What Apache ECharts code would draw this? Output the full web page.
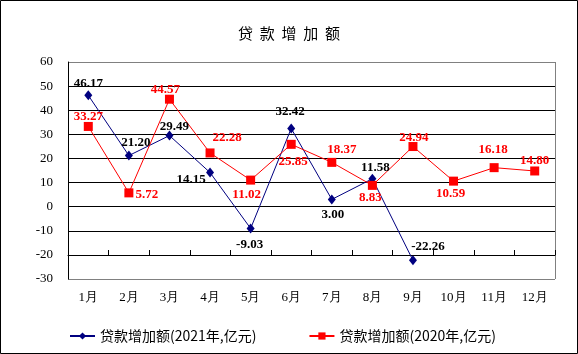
<!DOCTYPE html>
<html>
<head>
<meta charset="utf-8">
<script src="https://cdn.jsdelivr.net/npm/echarts@6/dist/echarts.min.js"></script>
<style>
  html, body { margin: 0; padding: 0; background: #fff; }
  #main { width: 578px; height: 354px; }
</style>
</head>
<body>
<div id="main"></div>
<script>
// 月份
const months = ['1月', '2月', '3月', '4月', '5月', '6月', '7月', '8月', '9月', '10月', '11月', '12月']
// 2021年 贷款增加额(亿元)
const loans2021 = [46.17, 21.20, 29.49, 14.15, -9.03, 32.42, 3.00, 11.58, -22.26]
// 2020年 贷款增加额(亿元)
const loans2020 = [33.27, 5.72, 44.57, 22.28, 11.02, 25.85, 18.37, 8.83, 24.94, 10.59, 16.18, 14.80]

const name2021 = '贷款增加额(2021年,亿元)'
const name2020 = '贷款增加额(2020年,亿元)'

// 标签相对数据点的偏移 [dx, dy]
const offsets2021 = [[0, -12], [7, -13], [5, -9], [-19, 7], [-1, 16], [-1, -17], [1, 15], [3, -11], [15, -14]]
const offsets2020 = [[0, -10], [18, 2], [-4, -10], [17, -15], [-4, 15], [2, 17], [10, -13], [-2, 12], [1, -9], [-3, 13], [-1, -18], [0, -10]]

const serif = '"Liberation Serif", "Times New Roman", serif'
const cjk = '"Noto Sans CJK SC", sans-serif'

function withLabels (values, offsets) {
    return values.map(function (v, i) {
        return { value: v, label: { offset: offsets[i] } }
    })
}

const chart = echarts.init(document.getElementById('main'), null, { renderer: 'canvas' })

// y 轴分隔线：上下边框灰色，其余黑色
const splitColors = ['#808080', '#000', '#000', '#000', '#000', '#000', '#000', '#000', '#000', '#808080']

const option = {
    animation: false,
    backgroundColor: '#fff',
    title: {
        text: '贷  款  增  加  额',
        left: 'center',
        top: 21,
        textStyle: { fontFamily: cjk, fontSize: 15, fontWeight: 'normal', color: '#000' }
    },
    legend: {
        left: 64,
        top: 324,
        itemWidth: 25,
        itemHeight: 9,
        itemGap: 52,
        textStyle: { fontFamily: cjk, fontSize: 14, color: '#000' },
        data: [name2021, name2020]
    },
    grid: { left: 68, right: 23, top: 62, bottom: 75 },
    xAxis: [
        {
            type: 'category',
            data: months,
            boundaryGap: true,
            axisLine: { show: false },
            axisTick: { show: false },
            axisLabel: { margin: 12, fontFamily: serif, fontSize: 13, color: '#000' }
        },
        {
            // 位于 -20 处的横轴，刻度朝上
            type: 'category',
            data: months,
            boundaryGap: true,
            position: 'bottom',
            offset: -24,
            axisLine: { show: true, lineStyle: { color: '#000', width: 1 } },
            axisTick: { show: true, inside: true, length: 5, lineStyle: { color: '#000' } },
            axisLabel: { show: false }
        }
    ],
    yAxis: {
        type: 'value',
        min: -30,
        max: 60,
        interval: 10,
        axisLine: { show: true, lineStyle: { color: '#000' } },
        axisTick: { show: false },
        axisLabel: { margin: 15, fontFamily: serif, fontSize: 13, color: '#000' },
        splitLine: { show: true, lineStyle: { color: splitColors, width: 1 } }
    },
    series: [
        {
            name: name2021,
            type: 'line',
            data: withLabels(loans2021, offsets2021),
            symbol: 'diamond',
            symbolSize: [8, 10],
            itemStyle: { color: '#000080' },
            lineStyle: { color: '#000080', width: 1 },
            label: {
                show: true,
                position: 'inside',
                fontFamily: serif,
                fontSize: 13,
                fontWeight: 'bold',
                color: '#000',
                formatter: function (p) { return p.value.toFixed(2) }
            }
        },
        {
            name: name2020,
            type: 'line',
            data: withLabels(loans2020, offsets2020),
            symbol: 'rect',
            symbolSize: 9,
            itemStyle: { color: '#ff0000' },
            lineStyle: { color: '#ff0000', width: 1 },
            label: {
                show: true,
                position: 'inside',
                fontFamily: serif,
                fontSize: 13,
                fontWeight: 'bold',
                color: '#ff0000',
                formatter: function (p) { return p.value.toFixed(2) }
            }
        }
    ],
    graphic: [
        {
            type: 'rect',
            shape: { x: 0.5, y: 0.5, width: 577, height: 353 },
            style: { fill: 'none', stroke: '#000', lineWidth: 1 },
            silent: true
        },
        {
            // 绘图区右边框
            type: 'line',
            shape: { x1: 555.5, y1: 62, x2: 555.5, y2: 279 },
            style: { stroke: '#808080', lineWidth: 1 },
            silent: true
        }
    ]
}

option && chart.setOption(option)
</script>
</body>
</html>
